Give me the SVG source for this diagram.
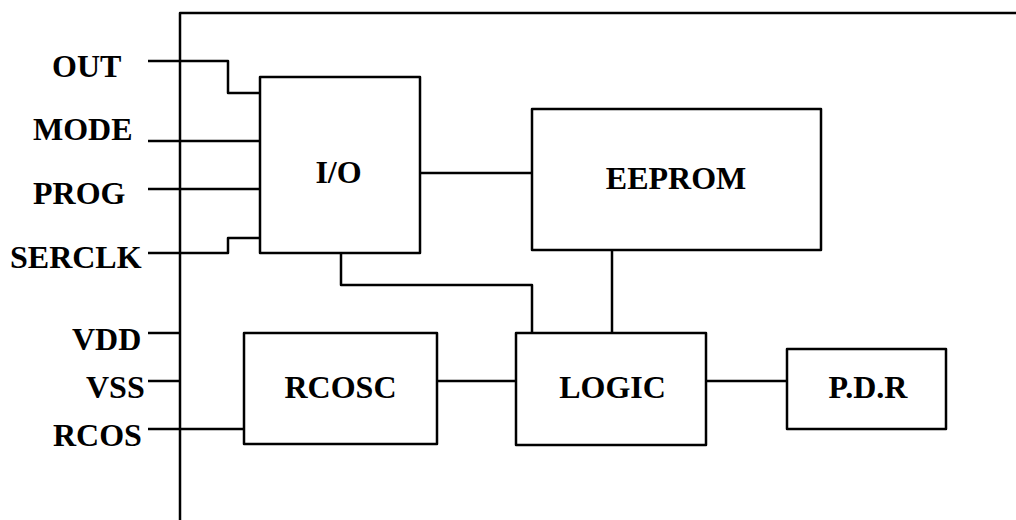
<svg xmlns="http://www.w3.org/2000/svg" width="1016" height="520" viewBox="0 0 1016 520">
<style>
.b{fill:#fff;stroke:#000;stroke-width:2.5;stroke-linejoin:round}
.w{fill:none;stroke:#000;stroke-width:2.5;stroke-linejoin:round}
text{font-family:"Liberation Serif","Times New Roman",serif;font-weight:bold;font-size:32px;fill:#000}
.m{text-anchor:middle}
</style>
<rect width="1016" height="520" fill="#fff"/>
<g id="frame"><path class="w" d="M180,520 V13 H1016"/></g>
<g id="connectors">
<path class="w" d="M148,61 H228 V93 H260"/>
<path class="w" d="M148,141 H260"/>
<path class="w" d="M148,189 H260"/>
<path class="w" d="M148,253 H228 V238 H260"/>
<path class="w" d="M148,333 H180"/>
<path class="w" d="M148,381 H180"/>
<path class="w" d="M148,429 H244"/>
<path class="w" d="M420,173 H532"/>
<path class="w" d="M341,253 V285 H532 V333"/>
<path class="w" d="M612,250 V333"/>
<path class="w" d="M437,381 H516"/>
<path class="w" d="M706,381 H787"/>
</g>
<g id="pins">
<text x="52" y="77">OUT</text>
<text x="33" y="140">MODE</text>
<text x="33" y="204">PROG</text>
<text x="10" y="268">SERCLK</text>
<text x="72" y="350">VDD</text>
<text x="86" y="398">VSS</text>
<text x="53" y="446">RCOS</text>
</g>
<g id="io"><rect class="b" x="260" y="77" width="160" height="176"/><text class="m" x="338.5" y="183">I/O</text></g>
<g id="eeprom"><rect class="b" x="532" y="109" width="289" height="141"/><text class="m" x="676" y="189">EEPROM</text></g>
<g id="rcosc"><rect class="b" x="244" y="333" width="193" height="111"/><text class="m" x="340.5" y="398">RCOSC</text></g>
<g id="logic"><rect class="b" x="516" y="333" width="190" height="112"/><text class="m" x="612.5" y="398">LOGIC</text></g>
<g id="pdr"><rect class="b" x="787" y="349" width="159" height="80"/><text class="m" x="868" y="398">P.D.R</text></g>
</svg>
